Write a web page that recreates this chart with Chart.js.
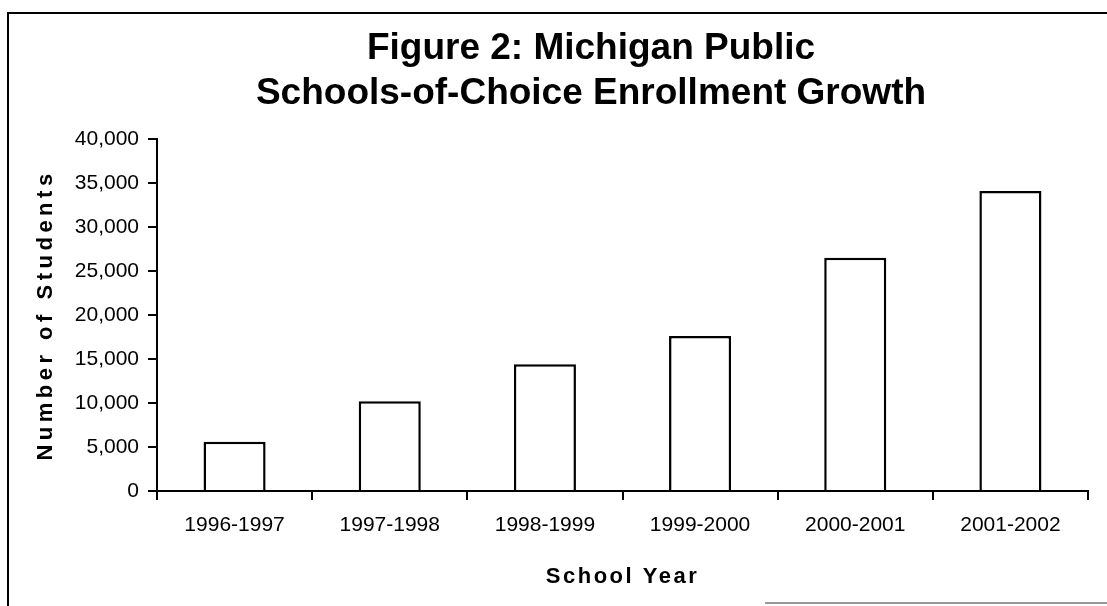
<!DOCTYPE html>
<html lang="en">
<head>
  <meta charset="UTF-8" />
  <title>Michigan Schools-of-Choice</title>
<style>
  body {margin:0;background:#fff;overflow:hidden;}
  .wrap {position:relative;width:1107px;height:606px;}
  .frame {position:absolute;left:7px;top:12px;width:1200px;height:700px;border:2px solid #000;box-sizing:border-box;}
  .bottom-line {position:absolute;left:765px;top:602px;width:342px;height:2px;background:#999;}
  canvas {position:absolute;left:0;top:0;}
</style>
</head>
<body>
<div class="wrap">
  <div class="frame"></div>
  <div class="bottom-line"></div>
  <canvas id="chart" width="1107" height="606"></canvas>
</div>

<script src="https://cdn.jsdelivr.net/npm/chart.js"></script>
<script>
const schoolYears = ['1996-1997','1997-1998','1998-1999','1999-2000','2000-2001','2001-2002'];
const students = [5600, 10200, 14400, 17600, 26500, 34100];
const titleLines = ['Figure 2: Michigan Public','Schools-of-Choice Enrollment Growth'];
const yTitle = 'Number of Students';
const xTitle = 'School Year';

const FONT = "'Liberation Sans', Arial, sans-serif";

// titles drawn by hand so letter spacing can be used
const textPlugin = {
  id: 'texts',
  afterDraw(chart) {
    const ctx = chart.ctx;
    const area = chart.chartArea;
    ctx.save();
    ctx.fillStyle = '#000';
    ctx.textAlign = 'center';
    ctx.textBaseline = 'middle';
    ctx.font = 'bold 37px ' + FONT;
    ctx.fillText(titleLines[0], 591, 49);
    ctx.fillText(titleLines[1], 591, 94);

    ctx.font = 'bold 22px ' + FONT;
    ctx.letterSpacing = '2.5px';
    ctx.fillText(xTitle, (area.left + area.right) / 2, 577);

    ctx.letterSpacing = '4.5px';
    ctx.translate(46, (area.top + area.bottom) / 2);
    ctx.rotate(-Math.PI / 2);
    ctx.fillText(yTitle, 0, 0);
    ctx.restore();
  }
};

new Chart(document.getElementById('chart'), {
  type: 'bar',
  data: {
    labels: schoolYears,
    datasets: [{
      data: students,
      backgroundColor: '#fff',
      borderColor: '#000',
      borderWidth: 2.5,
      barPercentage: 0.4,
      categoryPercentage: 1
    }]
  },
  options: {
    responsive: false,
    animation: false,
    layout: {padding: {top: 139, right: 19, left: 0, bottom: 0}},
    plugins: {legend: {display: false}, tooltip: {enabled: false}},
    scales: {
      x: {
        afterFit: s => { s.height = 115; },
        grid: {offset: true, drawOnChartArea: false, tickLength: 9, color: '#000', lineWidth: 2},
        border: {color: '#000', width: 2},
        ticks: {color: '#000', padding: 13, font: {family: FONT, size: 21}}
      },
      y: {
        min: 0,
        max: 40000,
        afterFit: s => { s.width = 157; },
        grid: {drawOnChartArea: false, tickLength: 9, color: '#000', lineWidth: 2},
        border: {color: '#000', width: 2},
        ticks: {
          stepSize: 5000,
          color: '#000',
          padding: 9,
          font: {family: FONT, size: 21},
          callback: v => v.toLocaleString('en-US')
        }
      }
    }
  },
  plugins: [textPlugin]
});
</script>
</body>
</html>
